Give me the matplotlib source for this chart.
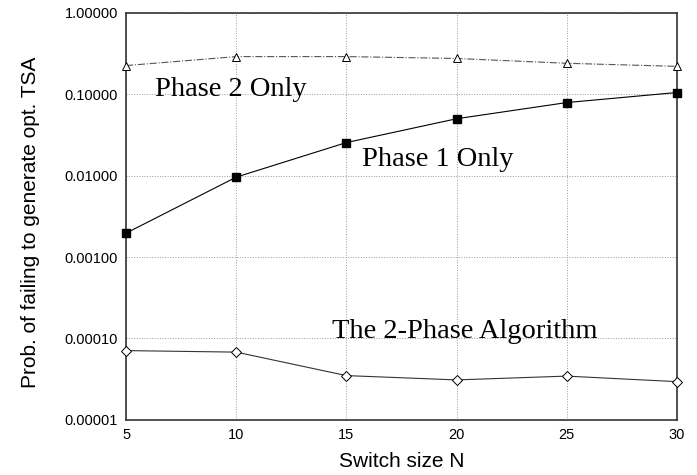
import matplotlib
matplotlib.use('Agg')
import matplotlib.pyplot as plt
import matplotlib.ticker as mticker

switch_size = [5, 10, 15, 20, 25, 30]
phase2_only = [0.225, 0.29, 0.29, 0.275, 0.24, 0.22]
phase1_only = [0.00197, 0.0096, 0.0255, 0.050, 0.079, 0.105]
two_phase = [7.1e-5, 6.8e-5, 3.5e-5, 3.1e-5, 3.45e-5, 2.95e-5]

yticks = [1e-5, 1e-4, 1e-3, 1e-2, 1e-1, 1.0]
ytick_labels = ['0.00001', '0.00010', '0.00100', '0.01000', '0.10000', '1.00000']

fig = plt.figure(figsize=(6.97, 4.75), dpi=100)
ax = fig.add_axes([0.181, 0.116, 0.790, 0.857])

ax.plot(switch_size, phase2_only, color='#555555', lw=0.8, ls='-.',
        marker='^', ms=6, mfc='white', mec='black', mew=0.7, clip_on=False, zorder=3)
ax.plot(switch_size, phase1_only, color='black', lw=0.8, ls='-',
        marker='s', ms=5.5, mfc='black', mec='black', clip_on=False, zorder=3)
ax.plot(switch_size, two_phase, color='#333333', lw=0.8, ls='-',
        marker='D', ms=5, mfc='white', mec='black', mew=0.7, clip_on=False, zorder=3)

ax.set_yscale('log')
ax.set_xlim(5, 30)
ax.set_ylim(1e-5, 1.0)
ax.set_xticks(switch_size)
ax.set_yticks(yticks)
ax.set_yticklabels(ytick_labels)
ax.yaxis.set_minor_locator(mticker.NullLocator())
ax.tick_params(length=0, labelsize=10.5, pad=6)
ax.grid(True, color='#999999', ls=':', lw=0.7)

for s in ax.spines.values():
    s.set_linewidth(1.2)
    s.set_color('#333333')

ax.set_xlabel('Switch size N', fontsize=15, family='Liberation Sans', labelpad=7)
ax.set_ylabel('Prob. of failing to generate opt. TSA', fontsize=15,
              family='Liberation Sans')
ax.yaxis.set_label_coords(-0.157, 0.486)
for lbl in ax.get_xticklabels() + ax.get_yticklabels():
    lbl.set_family('Liberation Sans')

serif = 'Liberation Serif'
ax.text(6.3, 0.0945, 'Phase 2 Only', fontsize=20.5, family=serif, va='baseline', ha='left')
ax.text(15.7, 0.0133, 'Phase 1 Only', fontsize=20.5, family=serif, va='baseline', ha='left')
ax.text(14.35, 1.0e-4, 'The 2-Phase Algorithm', fontsize=20.5, family=serif,
        va='baseline', ha='left')

fig.savefig('out.png', dpi=100)
